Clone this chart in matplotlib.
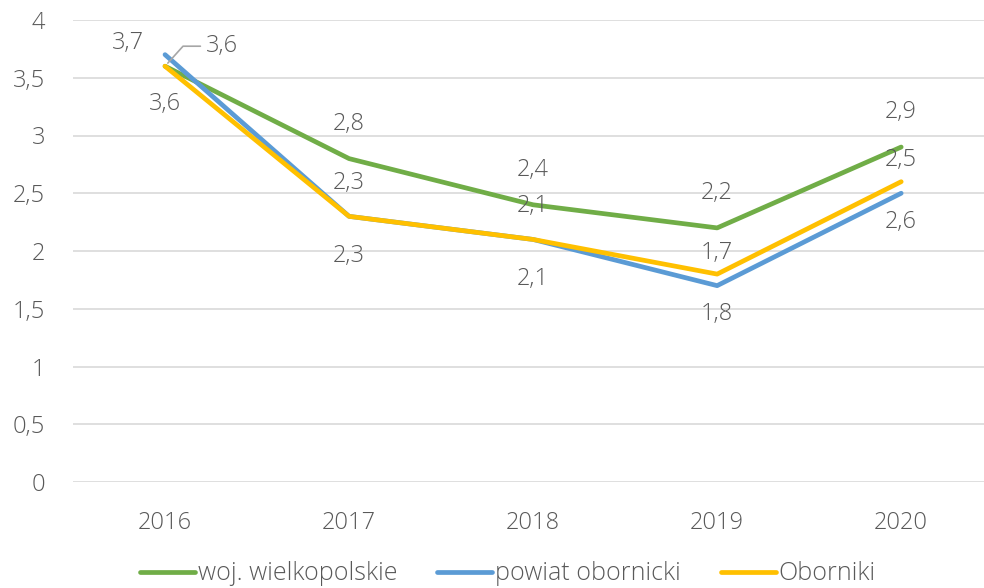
import matplotlib.pyplot as plt
from matplotlib.lines import Line2D

years = ["2016", "2017", "2018", "2019", "2020"]
woj = [3.6, 2.8, 2.4, 2.2, 2.9]
powiat = [3.7, 2.3, 2.1, 1.7, 2.5]
oborniki = [3.6, 2.3, 2.1, 1.8, 2.6]
series_names = ["woj. wielkopolskie", "powiat obornicki", "Oborniki"]

green = "#70AD47"
blue = "#5B9BD5"
yellow = "#FFC000"
txt = "#595959"
fs = 17

plt.rcParams["font.family"] = ["Open Sans", "DejaVu Sans"]
plt.rcParams["font.weight"] = "light"

fig = plt.figure(figsize=(9.84, 5.88), dpi=100)
ax = fig.add_axes([73 / 984, 106 / 588, (984 - 73) / 984, 462 / 588])

x = list(range(len(years)))
ax.plot(x, woj, color=green, lw=3.4, solid_capstyle="round", zorder=3)
ax.plot(x, powiat, color=blue, lw=3.4, solid_capstyle="round", zorder=3)
ax.plot(x, oborniki, color=yellow, lw=3.4, solid_capstyle="round", zorder=4)

ax.set_xlim(-0.5, 4.45)
ax.set_ylim(0, 4)
ax.set_yticks([i * 0.5 for i in range(9)])
ax.set_yticklabels([f"{i * 0.5:g}".replace(".", ",") for i in range(9)])
ax.set_xticks(x)
ax.set_xticklabels(years)
ax.grid(axis="y", color="#D9D9D9", lw=1.2)
ax.set_axisbelow(True)
for s in ax.spines.values():
    s.set_visible(False)
ax.tick_params(length=0, colors=txt, labelsize=fs)
ax.tick_params(axis="y", pad=20)
ax.tick_params(axis="x", pad=21)

def fmt(v):
    return f"{v:g}".replace(".", ",")

def lab(i, v, dx, dy, **kw):
    ax.annotate(fmt(v), (i, v), xytext=(dx * 0.72, dy * 0.72), textcoords="offset points",
                ha="center", va="center", fontsize=fs, color=txt, **kw)

# 2016 special labels
lab(0, powiat[0], -37, 12)
lab(0, oborniki[0], 0, -38)
lab(0, woj[0], 57, 20, arrowprops=dict(arrowstyle="-", color="#A6A6A6", lw=1.2,
                                       shrinkA=2, shrinkB=3,
                                       connectionstyle="angle,angleA=0,angleB=48,rad=0"))
for i in range(1, len(years)):
    lab(i, woj[i], 0, 35)
    lab(i, powiat[i], 0, 33)
    lab(i, oborniki[i], 0, -40)

handles = [Line2D([], [], color=c, lw=3.4, solid_capstyle="round") for c in (green, blue, yellow)]
fig.legend(handles, series_names, loc="center", bbox_to_anchor=(0.516, 14 / 588),
           ncol=3, frameon=False, fontsize=18, labelcolor=txt, handlelength=2.2,
           handletextpad=0.12, columnspacing=1.6)

fig.savefig("out.png", dpi=100)
